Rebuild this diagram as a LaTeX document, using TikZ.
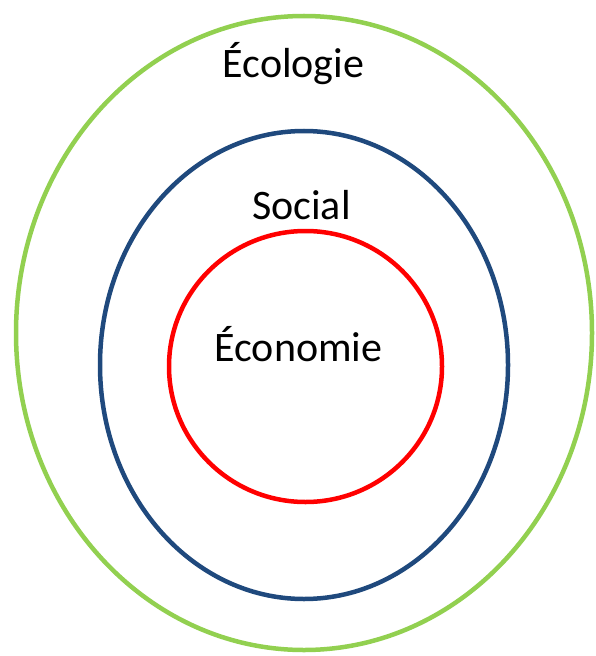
\documentclass[tikz,border=0pt]{standalone}
\usepackage{fontspec}
\setmainfont{Carlito}
\definecolor{ecogreen}{HTML}{92D050}
\definecolor{socblue}{HTML}{1F497D}
\definecolor{ecored}{HTML}{FF0000}
\begin{document}
\begin{tikzpicture}[x=1bp,y=-1bp,
  ring/.style={line width=4.5bp},
  lbl/.style={anchor=base,inner sep=0pt,font=\fontsize{42bp}{50bp}\selectfont}]
\useasboundingbox (0,0) rectangle (596,656);
\draw[ring,ecogreen] (304,333) ellipse [x radius=288, y radius=317];
\draw[ring,socblue] (304,365) ellipse [x radius=204, y radius=234];
\draw[ring,ecored] (305.5,366.5) ellipse [x radius=136.5, y radius=135.5];
\node[lbl] (eco) at (293.5,78) {Écologie};
\node[lbl] (soc) at (301.5,219) {Social};
\node[lbl] (econ) at (298.5,361) {Économie};
\end{tikzpicture}
\end{document}
